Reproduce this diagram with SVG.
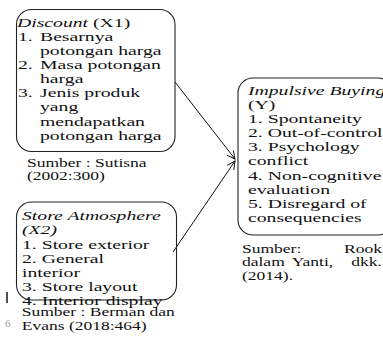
<svg xmlns="http://www.w3.org/2000/svg" width="383" height="337" viewBox="0 0 383 337">
<style>
.box{fill:none;stroke:#222;stroke-width:1.1}
.t{font-family:"Liberation Serif","Times New Roman",serif;font-size:13.5px;fill:#111}
.s{font-family:"Liberation Serif","Times New Roman",serif;font-size:12px;fill:#111}
.i{font-style:italic}
.conn{stroke:#111;stroke-width:1;fill:none}
</style>
<defs>
<marker id="ah" markerWidth="10" markerHeight="10" refX="9" refY="5" orient="auto" markerUnits="userSpaceOnUse">
<path d="M1,1 L9,5 L1,9" fill="none" stroke="#111" stroke-width="1"/>
</marker>
</defs>
<rect width="383" height="337" fill="#fff"/>
<g id="connectors">
<line class="conn" x1="175" y1="82" x2="235" y2="159" marker-end="url(#ah)"/>
<line class="conn" x1="173" y1="252" x2="235" y2="161" marker-end="url(#ah)"/>
</g>
<g id="node-discount">
<rect class="box" x="16.5" y="9.5" width="158.5" height="142" rx="15"/>
<g transform="scale(1.46,1)">
<text class="t" x="11.64" y="27"><tspan class="i">Discount</tspan> (X1)</text>
<text class="t" x="12.33" y="41">1.<tspan x="27.4">Besarnya</tspan></text>
<text class="t" x="27.4" y="55">potongan harga</text>
<text class="t" x="12.33" y="69.5">2.<tspan x="27.4">Masa potongan</tspan></text>
<text class="t" x="27.4" y="83.5">harga</text>
<text class="t" x="12.33" y="97.5">3.<tspan x="27.4">Jenis produk</tspan></text>
<text class="t" x="27.4" y="111.5">yang</text>
<text class="t" x="27.4" y="126">mendapatkan</text>
<text class="t" x="27.4" y="140">potongan harga</text>
<text class="s" x="18.5" y="167">Sumber : Sutisna</text>
<text class="s" x="18.5" y="180.5">(2002:300)</text>
</g>
</g>
<g id="node-store">
<rect class="box" x="16.5" y="202" width="160" height="98" rx="15"/>
<g transform="scale(1.46,1)">
<text class="t i" x="15.07" y="220.5">Store Atmosphere</text>
<text class="t i" x="15.07" y="234.5">(X2)</text>
<text class="t" x="15.07" y="249">1. Store exterior</text>
<text class="t" x="15.07" y="263">2. General</text>
<text class="t" x="15.07" y="277">interior</text>
<text class="t" x="15.07" y="291">3. Store layout</text>
<text class="t" x="15.07" y="305">4. Interior display</text>
<text class="s" x="14.9" y="316.5">Sumber : Berman dan</text>
<text class="s" x="14.9" y="330">Evans (2018:464)</text>
</g>
</g>
<g id="node-impulsive">
<rect class="box" x="238" y="78" width="155" height="157" rx="15"/>
<g transform="scale(1.46,1)">
<text class="t" x="169.86" y="95"><tspan class="i">Impulsive Buying</tspan></text>
<text class="t" x="169.86" y="109">(Y)</text>
<text class="t" x="169.86" y="123.5">1. Spontaneity</text>
<text class="t" x="169.86" y="137.5">2. Out-of-control</text>
<text class="t" x="169.86" y="151.5">3. Psychology</text>
<text class="t" x="169.86" y="165.5">conflict</text>
<text class="t" x="169.86" y="180">4. Non-cognitive</text>
<text class="t" x="169.86" y="194">evaluation</text>
<text class="t" x="169.86" y="208">5. Disregard of</text>
<text class="t" x="169.86" y="222">consequencies</text>
<text class="s" x="165.75" y="253">Sumber:</text>
<text class="s" x="261.6" y="253" text-anchor="end">Rook</text>
<text class="s" x="165.75" y="266.5">dalam</text>
<text class="s" x="199.8" y="266.5">Yanti,</text>
<text class="s" x="261.6" y="266.5" text-anchor="end">dkk.</text>
<text class="s" x="165.75" y="280">(2014).</text>
</g>
</g>
<line x1="7" y1="292" x2="7" y2="303" stroke="#111" stroke-width="1.5"/>
<text x="5" y="327" font-family="Liberation Serif, serif" font-size="11" fill="#999">6</text>
</svg>
